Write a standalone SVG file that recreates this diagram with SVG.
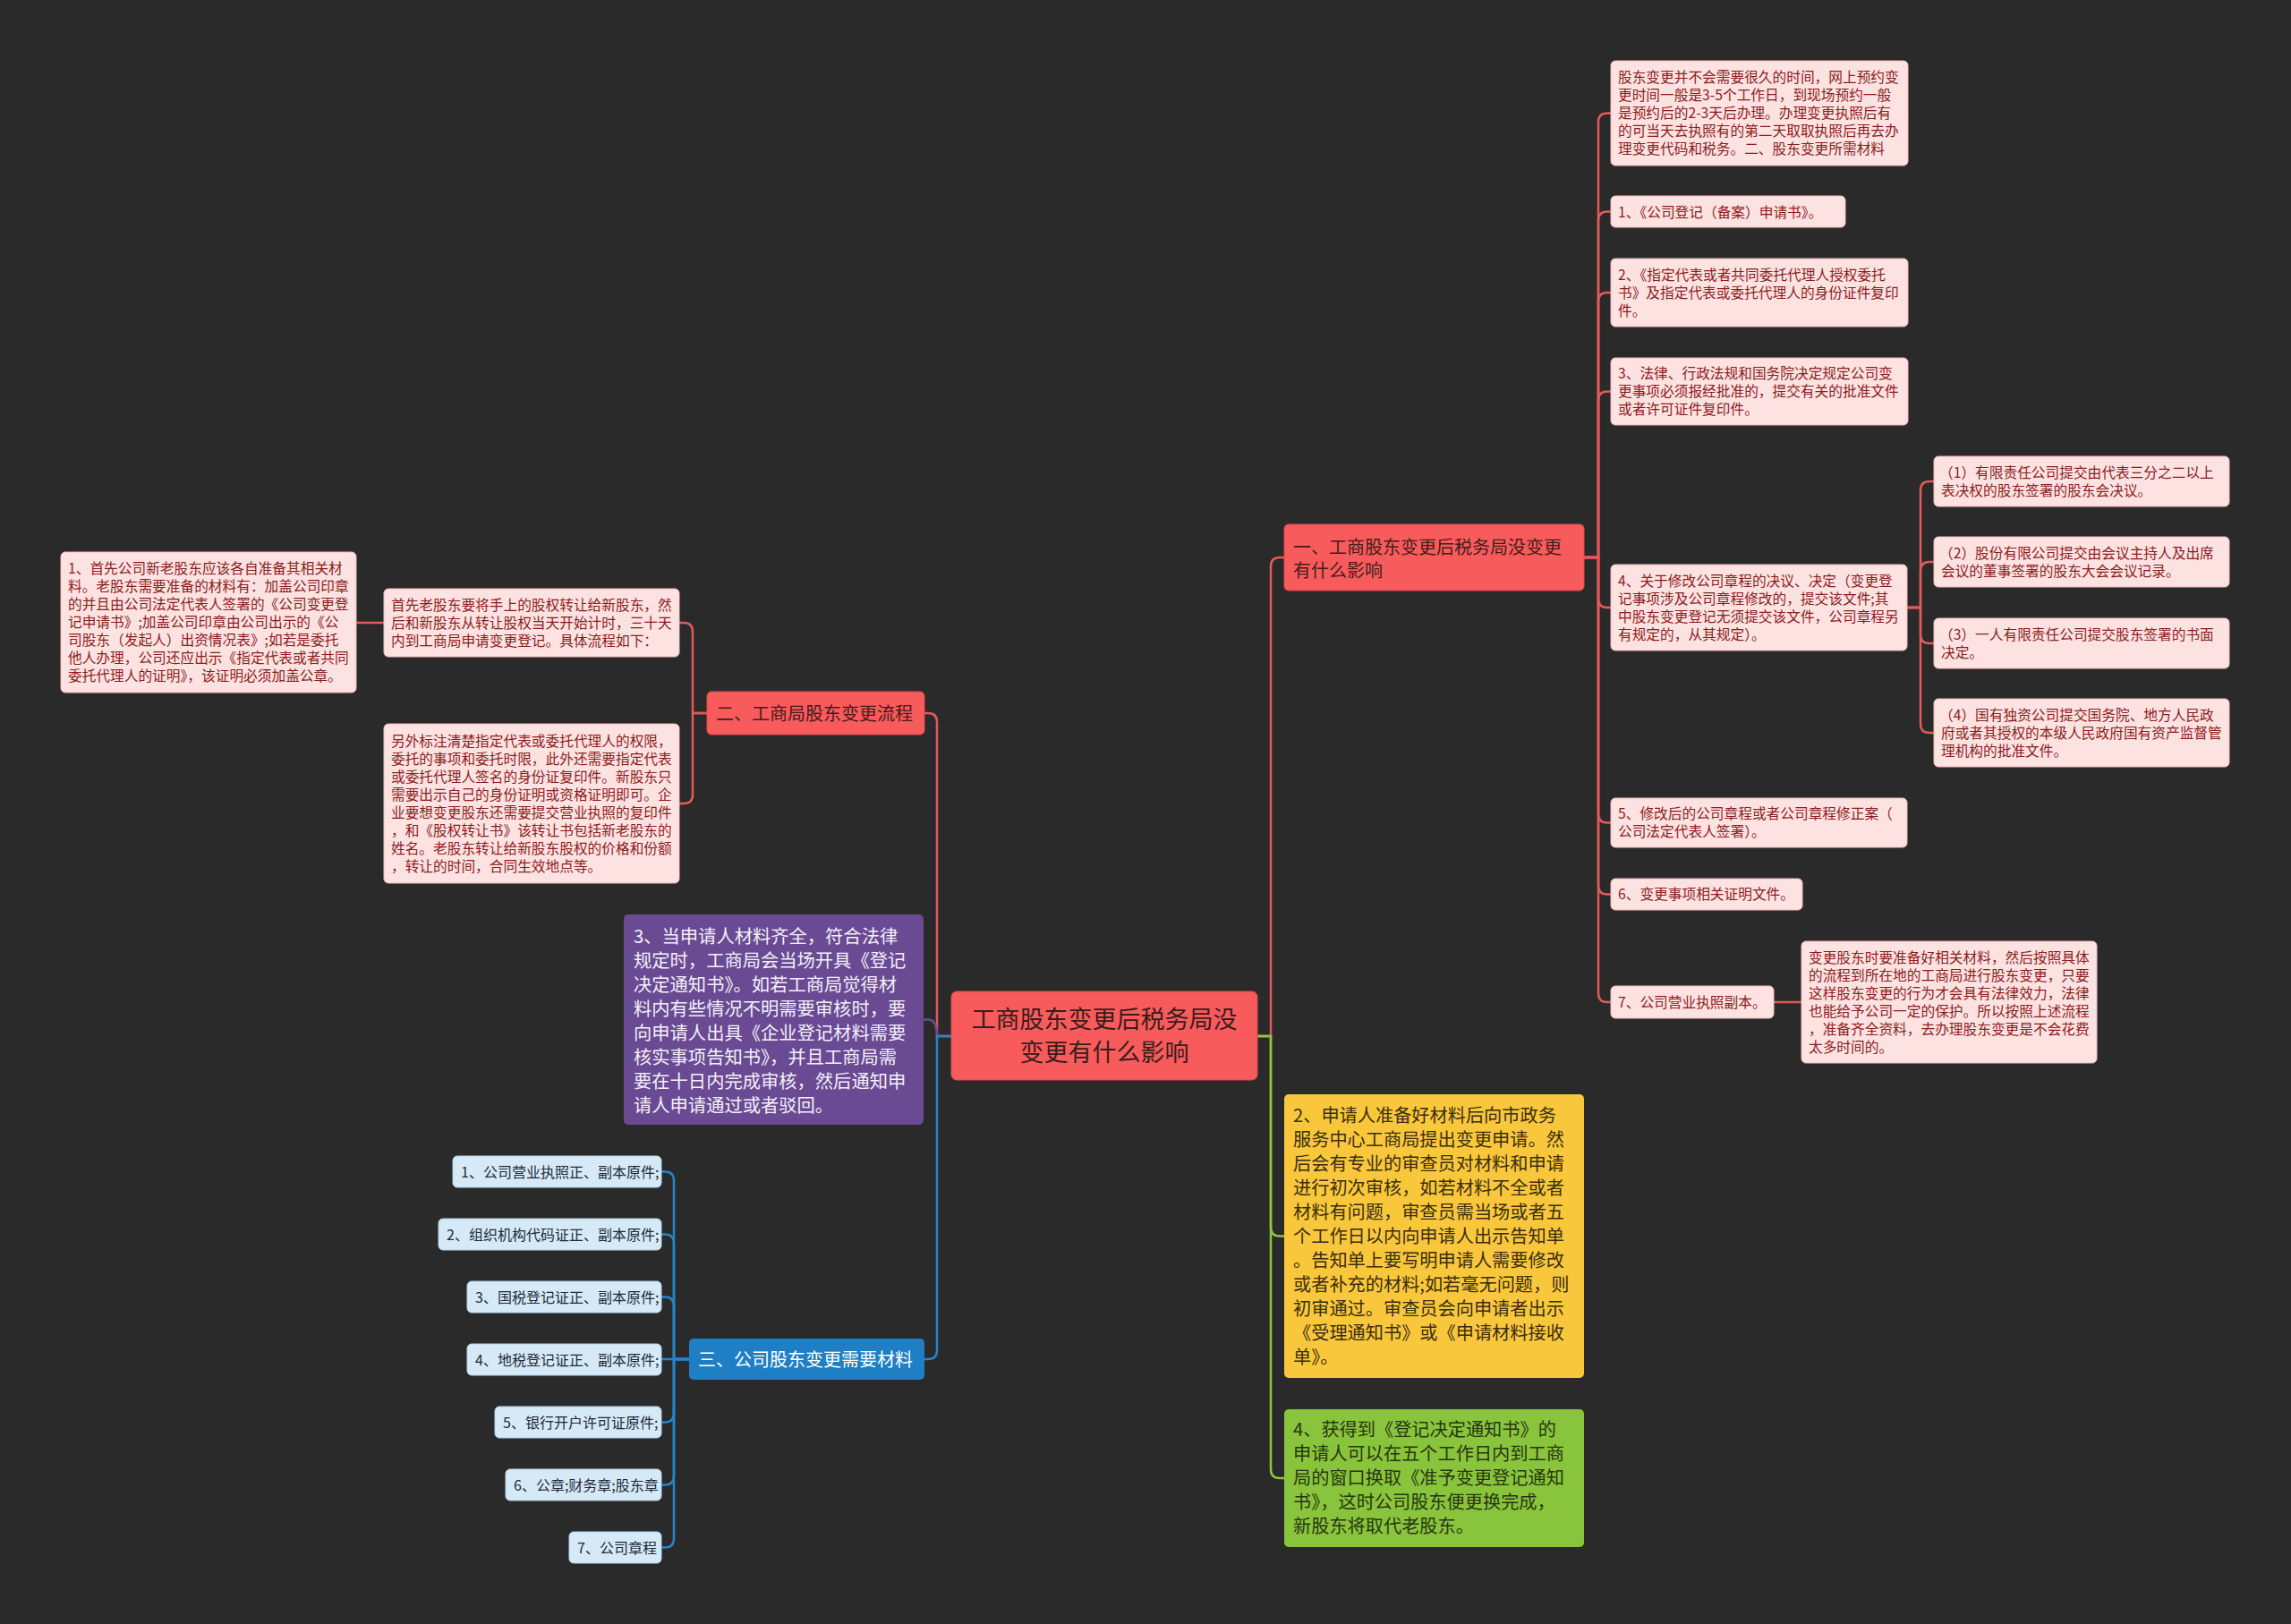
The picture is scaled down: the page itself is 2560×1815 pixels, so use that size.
<svg xmlns="http://www.w3.org/2000/svg" width="2560" height="1815" viewBox="0 0 2560 1815">
<style>
text{font-family:"Noto Sans CJK SC","Noto Sans",sans-serif}
.c{fill:none;stroke-width:2.5;stroke-linecap:round}
.r{stroke:#e35a5a}.g{stroke:#8dc63f}.b{stroke:#2585c9}.p{stroke:#6a4c93}
.red{fill:#f75b5b;stroke:#e24a4a;stroke-width:1}
.pink{fill:#fde2e2;stroke:#f3baba;stroke-width:1}
.lb{fill:#d6e9f6;stroke:#b4d3ea;stroke-width:1}
.pt{font-size:15.7px;fill:#8c1c1c}
.bt{font-size:16px;fill:#1d2a38}
.h20{font-size:20px;fill:#451c1c}
.dk{font-size:20.2px;fill:#3a2e12}
.dg{font-size:20.2px;fill:#283610}
</style>
<rect width="2560" height="1815" fill="#2a2a2a"/>
<g id="connectors">
<path class="c r" d="M1405 1158H1420V633Q1420 623 1430 623H1435"/>
<path class="c g" d="M1405 1158H1420V1371.5Q1420 1381.5 1430 1381.5H1435"/>
<path class="c g" d="M1405 1158H1420V1642Q1420 1652 1430 1652H1435"/>
<path class="c r" d="M1063 1158H1047V807Q1047 797 1037 797H1033"/>
<path class="c p" d="M1063 1158H1047Q1047 1139.5 1037 1139.5H1032"/>
<path class="c b" d="M1063 1158H1047V1509Q1047 1519 1037 1519H1033"/>
<path class="c r" d="M1770 623H1786V136.5Q1786 126.5 1796 126.5H1800"/>
<path class="c r" d="M1770 623H1786V246.5Q1786 236.5 1796 236.5H1800"/>
<path class="c r" d="M1770 623H1786V337Q1786 327 1796 327H1800"/>
<path class="c r" d="M1770 623H1786V447.5Q1786 437.5 1796 437.5H1800"/>
<path class="c r" d="M1770 623H1786V669Q1786 679 1796 679H1800"/>
<path class="c r" d="M1770 623H1786V909.5Q1786 919.5 1796 919.5H1800"/>
<path class="c r" d="M1770 623H1786V989.5Q1786 999.5 1796 999.5H1800"/>
<path class="c r" d="M1770 623H1786V1110Q1786 1120 1796 1120H1800"/>
<path class="c r" d="M2131 679H2146V548Q2146 538 2156 538H2161"/>
<path class="c r" d="M2131 679H2146V638Q2146 628 2156 628H2161"/>
<path class="c r" d="M2131 679H2146V709Q2146 719 2156 719H2161"/>
<path class="c r" d="M2131 679H2146V809Q2146 819 2156 819H2161"/>
<path class="c r" d="M1982 1120H2013"/>
<path class="c r" d="M790 797H774V706Q774 696 764 696H759"/>
<path class="c r" d="M790 797H774V888Q774 898 764 898H759"/>
<path class="c r" d="M429 696H398"/>
<path class="c b" d="M770 1519H753V1319.5Q753 1309.5 743 1309.5H739"/>
<path class="c b" d="M770 1519H753V1389.5Q753 1379.5 743 1379.5H739"/>
<path class="c b" d="M770 1519H753V1459.5Q753 1449.5 743 1449.5H739"/>
<path class="c b" d="M770 1519H739"/>
<path class="c b" d="M770 1519H753V1579.5Q753 1589.5 743 1589.5H739"/>
<path class="c b" d="M770 1519H753V1649.5Q753 1659.5 743 1659.5H739"/>
<path class="c b" d="M770 1519H753V1719.5Q753 1729.5 743 1729.5H739"/>
</g>
<g id="root">
<rect class="red" x="1063" y="1108" width="342" height="99" rx="6"/>
<text x="1234" font-size="27" fill="#3b1c1c" text-anchor="middle"><tspan x="1234" y="1149">工商股东变更后税务局没</tspan><tspan x="1234" y="1186">变更有什么影响</tspan></text>
</g>
<g id="n1">
<rect class="red" x="1435" y="586" width="335" height="74" rx="5"/>
<text class="h20"><tspan x="1445" y="619">一、工商股东变更后税务局没变更</tspan><tspan x="1445" y="645">有什么影响</tspan></text>
</g>
<g id="n1a">
<rect class="pink" x="1800" y="68" width="332" height="117" rx="5"/>
<text class="pt"><tspan x="1808" y="92">股东变更并不会需要很久的时间，网上预约变</tspan><tspan x="1808" y="112">更时间一般是3-5个工作日，到现场预约一般</tspan><tspan x="1808" y="132">是预约后的2-3天后办理。办理变更执照后有</tspan><tspan x="1808" y="152">的可当天去执照有的第二天取取执照后再去办</tspan><tspan x="1808" y="172">理变更代码和税务。二、股东变更所需材料</tspan></text>
</g>
<g id="n1b">
<rect class="pink" x="1800" y="219" width="262" height="35" rx="5"/>
<text class="pt" x="1808" y="242.5">1、《公司登记（备案）申请书》。</text>
</g>
<g id="n1c">
<rect class="pink" x="1800" y="289" width="332" height="76" rx="5"/>
<text class="pt"><tspan x="1808" y="312.5">2、《指定代表或者共同委托代理人授权委托</tspan><tspan x="1808" y="332.5">书》及指定代表或委托代理人的身份证件复印</tspan><tspan x="1808" y="352.5">件。</tspan></text>
</g>
<g id="n1d">
<rect class="pink" x="1800" y="400" width="332" height="75" rx="5"/>
<text class="pt"><tspan x="1808" y="423">3、法律、行政法规和国务院决定规定公司变</tspan><tspan x="1808" y="443">更事项必须报经批准的，提交有关的批准文件</tspan><tspan x="1808" y="463">或者许可证件复印件。</tspan></text>
</g>
<g id="n1e">
<rect class="pink" x="1800" y="631" width="331" height="96" rx="5"/>
<text class="pt"><tspan x="1808" y="654.5">4、关于修改公司章程的决议、决定（变更登</tspan><tspan x="1808" y="674.5">记事项涉及公司章程修改的，提交该文件;其</tspan><tspan x="1808" y="694.5">中股东变更登记无须提交该文件，公司章程另</tspan><tspan x="1808" y="714.5">有规定的，从其规定）。</tspan></text>
</g>
<g id="n1e1">
<rect class="pink" x="2161" y="510" width="330" height="56" rx="5"/>
<text class="pt"><tspan x="2167" y="533.5">（1）有限责任公司提交由代表三分之二以上</tspan><tspan x="2169" y="553.5">表决权的股东签署的股东会决议。</tspan></text>
</g>
<g id="n1e2">
<rect class="pink" x="2161" y="600" width="330" height="56" rx="5"/>
<text class="pt"><tspan x="2167" y="623.5">（2）股份有限公司提交由会议主持人及出席</tspan><tspan x="2169" y="643.5">会议的董事签署的股东大会会议记录。</tspan></text>
</g>
<g id="n1e3">
<rect class="pink" x="2161" y="691" width="330" height="56" rx="5"/>
<text class="pt"><tspan x="2167" y="714.5">（3）一人有限责任公司提交股东签署的书面</tspan><tspan x="2169" y="734.5">决定。</tspan></text>
</g>
<g id="n1e4">
<rect class="pink" x="2161" y="781" width="330" height="76" rx="5"/>
<text class="pt"><tspan x="2167" y="804.5">（4）国有独资公司提交国务院、地方人民政</tspan><tspan x="2169" y="824.5">府或者其授权的本级人民政府国有资产监督管</tspan><tspan x="2169" y="844.5">理机构的批准文件。</tspan></text>
</g>
<g id="n1f">
<rect class="pink" x="1800" y="892" width="331" height="55" rx="5"/>
<text class="pt"><tspan x="1808" y="915">5、修改后的公司章程或者公司章程修正案（</tspan><tspan x="1808" y="935">公司法定代表人签署）。</tspan></text>
</g>
<g id="n1g">
<rect class="pink" x="1800" y="982" width="214" height="35" rx="5"/>
<text class="pt" x="1808" y="1005">6、变更事项相关证明文件。</text>
</g>
<g id="n1h">
<rect class="pink" x="1800" y="1102" width="182" height="36" rx="5"/>
<text class="pt" x="1808" y="1125.5">7、公司营业执照副本。</text>
</g>
<g id="n1h1">
<rect class="pink" x="2013" y="1052" width="330" height="136" rx="5"/>
<text class="pt"><tspan x="2021" y="1075.5">变更股东时要准备好相关材料，然后按照具体</tspan><tspan x="2021" y="1095.5">的流程到所在地的工商局进行股东变更，只要</tspan><tspan x="2021" y="1115.5">这样股东变更的行为才会具有法律效力，法律</tspan><tspan x="2021" y="1135.5">也能给予公司一定的保护。所以按照上述流程</tspan><tspan x="2021" y="1155.5">，准备齐全资料，去办理股东变更是不会花费</tspan><tspan x="2021" y="1175.5">太多时间的。</tspan></text>
</g>
<g id="n2">
<rect x="1435" y="1223" width="335" height="317" rx="5" fill="#f9c73b"/>
<text class="dk"><tspan x="1445" y="1254">2、申请人准备好材料后向市政务</tspan><tspan x="1445" y="1281">服务中心工商局提出变更申请。然</tspan><tspan x="1445" y="1308">后会有专业的审查员对材料和申请</tspan><tspan x="1445" y="1335">进行初次审核，如若材料不全或者</tspan><tspan x="1445" y="1362">材料有问题，审查员需当场或者五</tspan><tspan x="1445" y="1389">个工作日以内向申请人出示告知单</tspan><tspan x="1445" y="1416">。告知单上要写明申请人需要修改</tspan><tspan x="1445" y="1443">或者补充的材料;如若毫无问题，则</tspan><tspan x="1445" y="1470">初审通过。审查员会向申请者出示</tspan><tspan x="1445" y="1497">《受理通知书》或《申请材料接收</tspan><tspan x="1445" y="1524">单》。</tspan></text>
</g>
<g id="n4">
<rect x="1435" y="1575" width="335" height="154" rx="5" fill="#88c43c"/>
<text class="dg"><tspan x="1445" y="1605">4、获得到《登记决定通知书》的</tspan><tspan x="1445" y="1632">申请人可以在五个工作日内到工商</tspan><tspan x="1445" y="1659">局的窗口换取《准予变更登记通知</tspan><tspan x="1445" y="1686">书》，这时公司股东便更换完成，</tspan><tspan x="1445" y="1713">新股东将取代老股东。</tspan></text>
</g>
<g id="n-2">
<rect class="red" x="790" y="773" width="243" height="48" rx="5"/>
<text class="h20" x="800" y="805">二、工商局股东变更流程</text>
</g>
<g id="n-2a">
<rect class="pink" x="429" y="658" width="330" height="76" rx="5"/>
<text class="pt"><tspan x="437" y="681.5">首先老股东要将手上的股权转让给新股东，然</tspan><tspan x="437" y="701.5">后和新股东从转让股权当天开始计时，三十天</tspan><tspan x="437" y="721.5">内到工商局申请变更登记。具体流程如下：</tspan></text>
</g>
<g id="n-2a1">
<rect class="pink" x="68" y="617" width="330" height="157" rx="5"/>
<text class="pt"><tspan x="76" y="641">1、首先公司新老股东应该各自准备其相关材</tspan><tspan x="76" y="661">料。老股东需要准备的材料有：加盖公司印章</tspan><tspan x="76" y="681">的并且由公司法定代表人签署的《公司变更登</tspan><tspan x="76" y="701">记申请书》;加盖公司印章由公司出示的《公</tspan><tspan x="76" y="721">司股东（发起人）出资情况表》;如若是委托</tspan><tspan x="76" y="741">他人办理，公司还应出示《指定代表或者共同</tspan><tspan x="76" y="761">委托代理人的证明》，该证明必须加盖公章。</tspan></text>
</g>
<g id="n-2b">
<rect class="pink" x="429" y="809" width="330" height="178" rx="5"/>
<text class="pt"><tspan x="437" y="833.5">另外标注清楚指定代表或委托代理人的权限，</tspan><tspan x="437" y="853.5">委托的事项和委托时限，此外还需要指定代表</tspan><tspan x="437" y="873.5">或委托代理人签名的身份证复印件。新股东只</tspan><tspan x="437" y="893.5">需要出示自己的身份证明或资格证明即可。企</tspan><tspan x="437" y="913.5">业要想变更股东还需要提交营业执照的复印件</tspan><tspan x="437" y="933.5">，和《股权转让书》该转让书包括新老股东的</tspan><tspan x="437" y="953.5">姓名。老股东转让给新股东股权的价格和份额</tspan><tspan x="437" y="973.5">，转让的时间，合同生效地点等。</tspan></text>
</g>
<g id="n-3">
<rect x="697" y="1022" width="335" height="235" rx="5" fill="#6a4a93"/>
<text font-size="20.3" fill="#f4f0f8"><tspan x="708" y="1054">3、当申请人材料齐全，符合法律</tspan><tspan x="708" y="1081">规定时，工商局会当场开具《登记</tspan><tspan x="708" y="1108">决定通知书》。如若工商局觉得材</tspan><tspan x="708" y="1135">料内有些情况不明需要审核时，要</tspan><tspan x="708" y="1162">向申请人出具《企业登记材料需要</tspan><tspan x="708" y="1189">核实事项告知书》，并且工商局需</tspan><tspan x="708" y="1216">要在十日内完成审核，然后通知申</tspan><tspan x="708" y="1243">请人申请通过或者驳回。</tspan></text>
</g>
<g id="n-4">
<rect x="770" y="1496" width="263" height="46" rx="5" fill="#1f7fc4"/>
<text font-size="20" fill="#ffffff" x="780" y="1526.5">三、公司股东变更需要材料</text>
</g>
<g id="n-4a">
<rect class="lb" x="506" y="1292" width="233" height="35" rx="5"/>
<text class="bt" x="515" y="1315.5">1、公司营业执照正、副本原件;</text>
</g>
<g id="n-4b">
<rect class="lb" x="490" y="1362" width="249" height="35" rx="5"/>
<text class="bt" x="499" y="1385.5">2、组织机构代码证正、副本原件;</text>
</g>
<g id="n-4c">
<rect class="lb" x="522" y="1432" width="217" height="35" rx="5"/>
<text class="bt" x="531" y="1455.5">3、国税登记证正、副本原件;</text>
</g>
<g id="n-4d">
<rect class="lb" x="522" y="1502" width="217" height="35" rx="5"/>
<text class="bt" x="531" y="1525.5">4、地税登记证正、副本原件;</text>
</g>
<g id="n-4e">
<rect class="lb" x="553" y="1572" width="186" height="35" rx="5"/>
<text class="bt" x="562" y="1595.5">5、银行开户许可证原件;</text>
</g>
<g id="n-4f">
<rect class="lb" x="565" y="1642" width="174" height="35" rx="5"/>
<text class="bt" x="574" y="1665.5">6、公章;财务章;股东章</text>
</g>
<g id="n-4g">
<rect class="lb" x="636" y="1712" width="103" height="35" rx="5"/>
<text class="bt" x="645" y="1735.5">7、公司章程</text>
</g>
</svg>
